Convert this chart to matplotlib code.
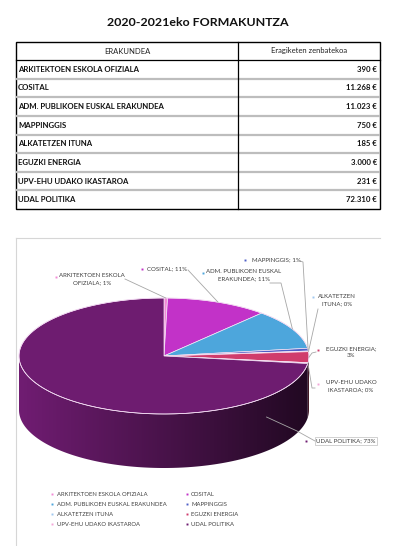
import matplotlib
matplotlib.use("Agg")
import matplotlib.pyplot as plt
import numpy as np
from matplotlib.patches import Polygon, Rectangle

# ---- data ----
title = "2020-2021eko FORMAKUNTZA"
col_headers = ["ERAKUNDEA", "Eragiketen zenbatekoa"]
names = [
    "ARKITEKTOEN ESKOLA OFIZIALA",
    "COSITAL",
    "ADM. PUBLIKOEN EUSKAL ERAKUNDEA",
    "MAPPINGGIS",
    "ALKATETZEN ITUNA",
    "EGUZKI ENERGIA",
    "UPV-EHU UDAKO IKASTAROA",
    "UDAL POLITIKA",
]
amounts = [390, 11268, 11023, 750, 185, 3000, 231, 72310]
amount_labels = ["390 €", "11.268 €", "11.023 €", "750 €", "185 €", "3.000 €", "231 €", "72.310 €"]
pct_labels = ["1%", "11%", "11%", "1%", "0%", "3%", "0%", "73%"]
slice_labels = [
    "ARKITEKTOEN ESKOLA\nOFIZIALA; {}",
    "COSITAL; {}",
    "ADM. PUBLIKOEN EUSKAL\nERAKUNDEA; {}",
    "MAPPINGGIS; {}",
    "ALKATETZEN\nITUNA; {}",
    "EGUZKI ENERGIA;\n{}",
    "UPV-EHU UDAKO\nIKASTAROA; {}",
    "UDAL POLITIKA; {}",
]

colors = ["#f28ad6", "#c232c8", "#4da6dc", "#4f5fc6", "#9fc8f0",
          "#d03c6c", "#f4a6d8", "#6e1c70"]

# ---- layout (pixel coordinates, y down) ----
W, H = 404, 546
fig = plt.figure(figsize=(W / 100, H / 100), dpi=100)
ax = fig.add_axes([0, 0, 1, 1])
ax.set_xlim(0, W)
ax.set_ylim(H, 0)
ax.axis("off")

FONT = "Lato"
txt_color = "#404040"

ax.text(198, 22, title, ha="center", va="center", fontsize=8.9,
        fontweight="bold", family=FONT, color="#111111")

# table
tx0, tx1, tdiv = 16, 380, 238
ty0, thead = 42, 60
row_h = (209 - thead) / len(names)
ty1 = thead + row_h * len(names)

for i in range(1, len(names)):
    y = thead + i * row_h
    ax.plot([tx0, tx1], [y, y], color="#bdbdbd", lw=1.6, solid_capstyle="butt")
ax.plot([tx0, tx1], [thead, thead], color="black", lw=0.9)
ax.add_patch(Rectangle((tx0, ty0), tx1 - tx0, ty1 - ty0, fill=False,
                       edgecolor="black", lw=1.0))
ax.plot([tdiv, tdiv], [ty0, ty1], color="black", lw=0.9)

hy = (ty0 + thead) / 2
ax.text((tx0 + tdiv) / 2, hy, col_headers[0], ha="center", va="center",
        fontsize=5.5, family=FONT, color="#222222")
ax.text((tdiv + tx1) / 2, hy, col_headers[1], ha="center", va="center",
        fontsize=5.5, family=FONT, color="#222222")
for i, (n, a) in enumerate(zip(names, amount_labels)):
    y = thead + (i + 0.5) * row_h
    ax.text(tx0 + 2, y, n, ha="left", va="center", fontsize=5.6,
            fontweight="bold", family=FONT, color="#111111")
    ax.text(tx1 - 3, y, a, ha="right", va="center", fontsize=5.6,
            fontweight="bold", family=FONT, color="#111111")

# chart frame (only top and left edges are in view)
ax.plot([16, 380], [238, 238], color="#d6d6d6", lw=0.8)
ax.plot([16, 16], [238, H], color="#d6d6d6", lw=0.8)

# ---- 3D pie ----
cx, cy, ra, rb, depth = 164, 356, 145, 58, 54
fr = np.array(amounts, dtype=float) / sum(amounts)
ends = 90 - 360 * np.cumsum(fr)
starts = np.concatenate([[90], ends[:-1]])


def edge(theta_deg, dy=0.0):
    t = np.radians(theta_deg)
    return cx + ra * np.cos(t), cy - rb * np.sin(t) + dy


# side walls: only the front half (sin < 0) is visible, shaded darker to the right
xs_grad = np.linspace(cx - ra, cx + ra, 300)
f_grad = 0.66 - 0.36 * (xs_grad - cx) / ra
for k, (s, e) in enumerate(zip(starts, ends)):
    lo, hi = min(s, e), max(s, e)
    # unwrap into the visible window (-180, 0)
    segs = []
    for off in (0, -360, 360):
        a0, a1 = max(lo + off, -180), min(hi + off, 0)
        if a1 > a0:
            segs.append((a0, a1))
    for a0, a1 in segs:
        th = np.linspace(a0, a1, max(3, int((a1 - a0) * 2)))
        top = [edge(t) for t in th]
        bot = [edge(t, depth) for t in th[::-1]]
        poly = Polygon(top + bot, closed=True, facecolor="none", edgecolor="none")
        ax.add_patch(poly)
        rgb = np.array(matplotlib.colors.to_rgb(colors[k]))
        img = np.clip(rgb[None, None, :] * f_grad[None, :, None], 0, 1)
        im = ax.imshow(img, extent=(cx - ra, cx + ra, cy + rb + depth, cy - rb),
                       aspect="auto", interpolation="bilinear", zorder=1)
        im.set_clip_path(poly)
ax.set_xlim(0, W)
ax.set_ylim(H, 0)

# top faces
for k, (s, e) in enumerate(zip(starts, ends)):
    th = np.linspace(s, e, max(3, int(abs(s - e) * 2)))
    pts = [(cx, cy)] + [edge(t) for t in th]
    ax.add_patch(Polygon(pts, closed=True, facecolor=colors[k],
                         edgecolor="#f6e6f6", lw=0.5, zorder=2))

# top rim highlight
th = np.linspace(0, 360, 400)
rx, ry = zip(*[edge(t) for t in th])
ax.plot(rx, ry, color="#f3d8f3", lw=0.5, zorder=2)

# ---- data labels with leader lines ----
lab_pos = [(92, 277), (147, 269), (244, 273), (276, 260),
           (337, 298), (351, 350), (351, 384), (346, 441)]
bullet_pos = [(56, 277), (142, 269), (203, 273), (245, 260),
              (313, 297), (318, 350), (318, 384), (306, 441)]
leader_pts = [
    [(125, 279)],
    [(188, 270)],
    [(270, 283), (281, 283)],
    [(300, 261), (303, 262)],
    [(318, 309)],
    [(316, 352), (312, 353)],
    [(315, 388), (312, 388)],
    [(315, 441), (297, 431)],
]
anchor_angle = [None, None, None, None, None, None, None, -45]
anchor_dy = [0, 0, 0, 0, 0, 0, 0, 20]

for k in range(len(names)):
    mid = (starts[k] + ends[k]) / 2 if anchor_angle[k] is None else anchor_angle[k]
    ax_, ay_ = edge(mid, anchor_dy[k])
    pts = leader_pts[k] + [(ax_, ay_)]
    xs, ys = zip(*pts)
    ax.plot(xs, ys, color="#a6a6a6", lw=0.6, zorder=3)
    lbl = slice_labels[k].format(pct_labels[k])
    x, y = lab_pos[k]
    ha = "left" if k == 1 else "center"
    va = "top" if "\n" in lbl else "center"
    yy = y - 4 if "\n" in lbl else y
    t = ax.text(x, yy, lbl, ha=ha, va=va, fontsize=4.4, family=FONT,
                color=txt_color, linespacing=1.5, multialignment="center", zorder=4)
    if k == len(names) - 1:
        t.set_bbox(dict(facecolor="white", edgecolor="#bfbfbf", lw=0.5, pad=1.2))
    bx, by = bullet_pos[k]
    ax.plot(bx, by, marker="s", ms=1.4, color=colors[k], mew=0, zorder=4)

# ---- legend ----
leg_x = [(52, 57), (187, 191)]
leg_y0, leg_dy = 494, 10
for k, n in enumerate(names):
    col, row = k % 2, k // 2
    bx, tx = leg_x[col]
    y = leg_y0 + row * leg_dy
    ax.plot(bx, y, marker="s", ms=1.4, color=colors[k], mew=0)
    ax.text(tx, y, n, ha="left", va="center", fontsize=4.2, family=FONT,
            color=txt_color)

fig.savefig("out.png", dpi=100)
